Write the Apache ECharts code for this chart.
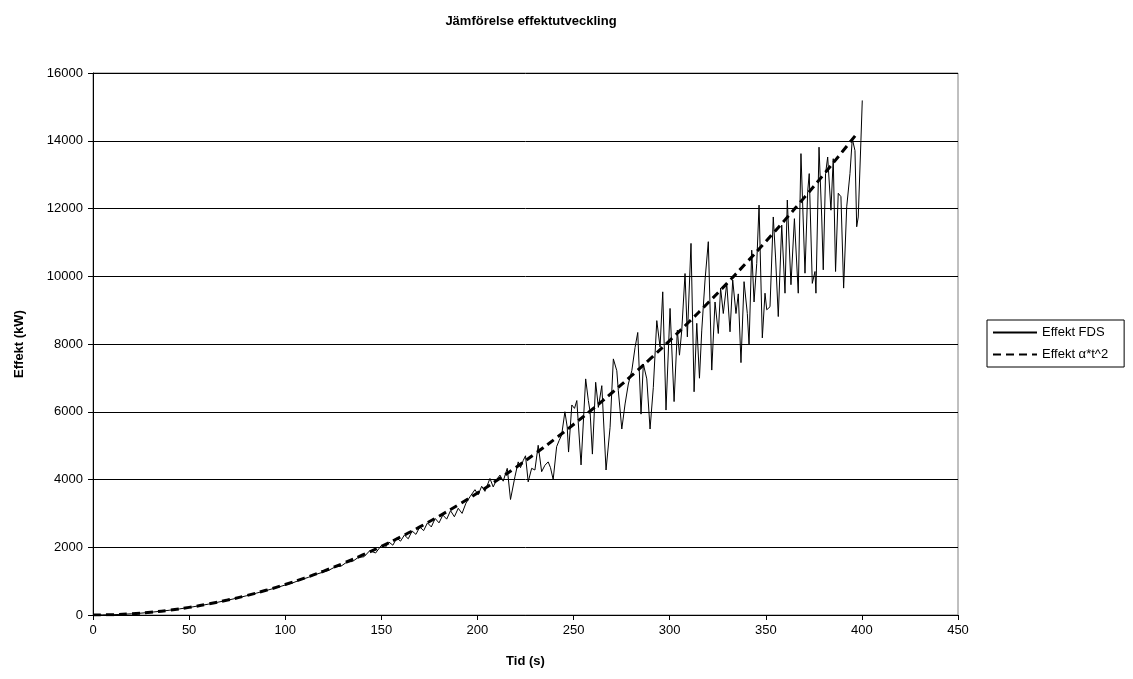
<!DOCTYPE html>
<html>
<head>
<meta charset="utf-8">
<script src="https://cdn.jsdelivr.net/npm/echarts@6/dist/echarts.min.js"></script>
<style>
html,body{margin:0;padding:0;background:#fff;}
#chart{width:1133px;height:679px;}
</style>
</head>
<body>
<div id="chart"></div>
<script>
// ---- data ----
const titleText = 'Jämförelse effektutveckling';
const xAxisName = 'Tid (s)';
const yAxisName = 'Effekt (kW)';
const seriesNames = ['Effekt FDS', 'Effekt α*t^2'];

// Effekt FDS: time (s)
const fdsTime = [
  0,5,10,15,20,25,30,35,40,45,50,55,60,65,70,75,80,85,90,95,
  100,104,108,112,116,120,123,126,129,132,135,138,141,144,147,150,152,154,156,158,
  160,162,164,166,168,170,172,174,176,178,180,182,184,186,188,190,192,194,196.1,198.7,
  200.4,202.2,203.9,206.5,208.2,210,211.7,213.4,215.5,217.2,219.5,221.2,222.4,223.8,225,226.4,228.2,229.9,231.6,233.4,
  235.1,236.8,238,239.4,241.2,242.5,243.8,245.5,246.7,247.4,249.1,250.5,251.7,253.9,256.3,257.7,258.6,259.8,261.5,262.9,
  264.7,266.9,269,270.7,272.5,273.3,275.1,276.8,278.5,280.3,282,283.4,285.1,286.3,288.1,289.8,291.5,293.3,295,296.4,
  298.1,300.2,302.3,304,305.1,306.3,308,309.2,311.1,312.7,314.1,315.5,316.7,318.4,320.1,321.9,323.6,325.3,326.5,327.9,
  329.7,331.4,332.8,334.5,335.7,337.1,338.7,340.4,341.3,342.7,343.9,345.3,346.5,348.2,349.6,350.5,352.2,353.9,355.1,356.5,
  358.3,360,361.2,363.1,364.9,366.9,368.3,370.4,371.8,372.6,374.2,375.6,376.1,377.7,379.1,379.9,381.1,382.2,383.9,385.1,
  386.3,387.7,389.1,390.5,392.1,393.8,395,396.4,397.3,398.1,399.5,400.2
];
// Effekt FDS: power (kW)
const fdsPower = [
  0,2,8,20,35,55,80,110,142,180,222,270,320,378,436,500,570,645,720,800,
  885,950,1040,1110,1200,1270,1330,1420,1440,1560,1580,1700,1720,1900,1830,2050,1990,2150,2060,2270,
  2180,2360,2250,2480,2380,2600,2490,2720,2600,2850,2720,2950,2830,3080,2900,3150,3000,3300,3490,3700,
  3550,3800,3650,4030,3780,4000,4130,3950,4330,3410,4080,4520,4350,4560,4700,3930,4330,4280,5010,4230,
  4420,4520,4350,4000,4970,5150,5310,6000,5550,4810,6200,6100,6330,4430,6970,6330,6000,4750,6870,6130,
  6770,4280,5540,7560,7210,6620,5490,6230,6820,7210,7900,8340,5930,7410,6970,5490,6720,8690,7910,9540,
  6050,9050,6300,8410,7670,8410,10080,8210,10970,6590,8610,6990,8410,9890,11020,7230,9240,8310,9650,8900,
  9790,8360,9890,8900,9480,7450,9840,8900,7970,10770,9240,10380,12100,8180,9500,9010,9100,11750,10540,8810,
  11510,9500,12250,9750,11700,9500,13620,10090,12500,13030,9790,10140,9500,13810,11750,10190,13030,13520,11950,13470,
  10140,12450,12350,9650,12050,13030,14060,13710,11460,11750,14010,15190
];

// Effekt α*t^2: time (s) and power (kW)
const alphaTime = [0,10,20,30,40,50,60,70,80,90,100,110,120,130,140,150,160,170,180,190,200,210,220,230,240,250,260,270,280,290,300,310,320,330,340,350,360,370,380,390,397];
const alphaPower = [0,9,36,81,144,225,324,441,576,729,900,1089,1296,1521,1764,2025,2304,2601,2916,3249,3600,3969,4356,4761,5184,5625,6084,6561,7056,7569,8100,8649,9216,9801,10404,11025,11664,12321,12996,13689,14184];

const xTicks = {min: 0, max: 450, interval: 50};
const yTicks = {min: 0, max: 16000, interval: 2000};

// ---- chart ----
const fdsData = fdsTime.map((t, i) => [t, fdsPower[i]]);
const alphaData = alphaTime.map((t, i) => [t, alphaPower[i]]);

const chart = echarts.init(document.getElementById('chart'), null, {renderer: 'canvas'});
const font = '"Liberation Sans", Arial, sans-serif';
chart.setOption({
  animation: false,
  backgroundColor: '#fff',
  textStyle: {fontFamily: font},
  title: {
    text: titleText,
    left: 526, top: 10, textAlign: 'center',
    textStyle: {fontFamily: font, fontSize: 13, fontWeight: 'bold', color: '#000'}
  },
  grid: {
    left: 93, right: 175, top: 73, bottom: 64,
    show: true, borderColor: '#808080', borderWidth: 1, backgroundColor: '#fff'
  },
  legend: {
    left: 987, top: 320, orient: 'vertical',
    itemWidth: 44, itemHeight: 13, itemGap: 9,
    borderColor: '#000', borderWidth: 1, padding: [6, 16, 6, 5],
    itemStyle: {opacity: 0},
    textStyle: {fontFamily: font, fontSize: 13, color: '#000'},
    data: seriesNames
  },
  xAxis: {
    type: 'value', min: xTicks.min, max: xTicks.max, interval: xTicks.interval,
    name: xAxisName, nameLocation: 'middle', nameGap: 40,
    nameTextStyle: {fontFamily: font, fontSize: 13, fontWeight: 'bold', color: '#000'},
    axisLine: {show: true, lineStyle: {color: '#000', width: 1}},
    axisTick: {show: true, length: 5, lineStyle: {color: '#000'}},
    axisLabel: {fontFamily: font, fontSize: 13, color: '#000', margin: 9},
    splitLine: {show: false}
  },
  yAxis: {
    type: 'value', min: yTicks.min, max: yTicks.max, interval: yTicks.interval,
    name: yAxisName, nameLocation: 'middle', nameGap: 67, nameRotate: 90,
    nameTextStyle: {fontFamily: font, fontSize: 13, fontWeight: 'bold', color: '#000'},
    axisLine: {show: true, lineStyle: {color: '#000', width: 1}},
    axisTick: {show: true, length: 5, lineStyle: {color: '#000'}},
    axisLabel: {fontFamily: font, fontSize: 13, color: '#000', margin: 10, formatter: v => String(v)},
    splitLine: {show: true, lineStyle: {color: '#000', width: 1}}
  },
  series: [
    {
      name: seriesNames[0], type: 'line', data: fdsData,
      symbol: 'none', smooth: false,
      lineStyle: {color: '#000', width: 1},
      itemStyle: {color: '#000'}
    },
    {
      name: seriesNames[1], type: 'line', data: alphaData,
      symbol: 'none', smooth: true,
      lineStyle: {color: '#000', width: 3, type: [8, 5]},
      itemStyle: {color: '#000'}
    }
  ]
});
</script>
</body>
</html>
